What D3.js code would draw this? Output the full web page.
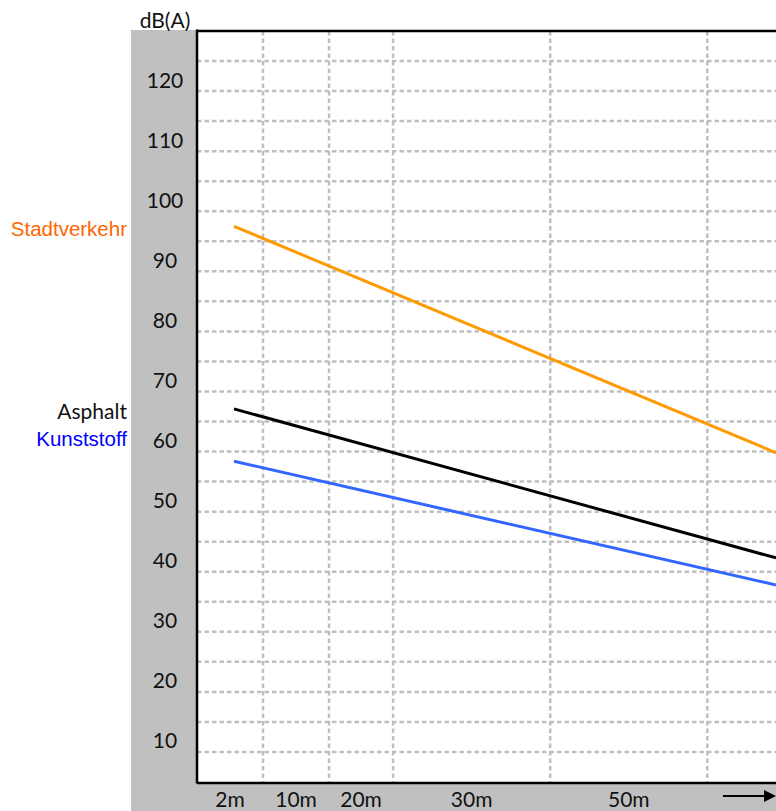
<!DOCTYPE html>
<html>
<head>
<meta charset="utf-8">
<script src="https://cdn.jsdelivr.net/npm/d3@7"></script>
<style>
  html, body { margin: 0; padding: 0; background: #fff; }
  svg { display: block; }
</style>
</head>
<body>
<svg id="chart" width="776" height="811"></svg>
<script>
// ---- data ----
const yTickLabels = [10, 20, 30, 40, 50, 60, 70, 80, 90, 100, 110, 120];
const yGridValues = [7.5, 12.5, 17.5, 22.5, 27.5, 32.5, 37.5, 42.5, 47.5, 52.5, 57.5, 62.5,
                     67.5, 72.5, 77.5, 82.5, 87.5, 92.5, 97.5, 102.5, 107.5, 112.5, 117.5, 122.5];
const xCategories = ["2m", "10m", "20m", "30m", "50m"];
const xBandEdges = [0, 1, 2, 2.97, 5.35, 7.73];   // abstract distance units
const xGridValues = [1, 2, 2.97, 5.35, 7.73];
const seriesNames = ["Stadtverkehr", "Asphalt", "Kunststoff"];
const seriesX = [0.56, 8.77];
const stadtverkehr = [95, 57.3];
const asphalt = [64.6, 39.8];
const kunststoff = [55.9, 35.3];
const lineColors = ["#FF9900", "#000000", "#3366FF"];
const labelColors = ["#FF6600", "#111111", "#0000FF"];
const labelFonts = ["'Liberation Sans', Arial, sans-serif", "Lato, sans-serif", "'Liberation Sans', Arial, sans-serif"];

// ---- layout ----
const W = 776, H = 811;
const plot = { left: 197, right: 776, top: 31, bottom: 782 };
const x = d3.scaleLinear().domain([0, 8.77]).range([plot.left, plot.right]);
const y = d3.scaleLinear().domain([2.5, 127.5]).range([plot.bottom, plot.top]);

const svg = d3.select("#chart");
const grey = "#C0C0C0";

// grey panel (left strip + bottom strip)
svg.append("rect").attr("x", 131).attr("y", 30).attr("width", plot.left - 131).attr("height", H - 30).attr("fill", grey);
svg.append("rect").attr("x", 131).attr("y", plot.bottom).attr("width", W - 131).attr("height", H - plot.bottom).attr("fill", grey);

// white plot
svg.append("rect").attr("x", plot.left).attr("y", plot.top).attr("width", plot.right - plot.left)
  .attr("height", plot.bottom - plot.top).attr("fill", "#fff");

// grid
const grid = svg.append("g").attr("stroke", "#BFBFBF").attr("stroke-width", 2.5).attr("stroke-dasharray", "4.5,3");
grid.selectAll("line.h").data(yGridValues).join("line").attr("class", "h")
  .attr("x1", plot.left).attr("x2", plot.right)
  .attr("y1", d => y(d)).attr("y2", d => y(d));
grid.selectAll("line.v").data(xGridValues).join("line").attr("class", "v")
  .attr("x1", d => x(d)).attr("x2", d => x(d))
  .attr("y1", plot.top).attr("y2", plot.bottom);

// series lines
const allSeries = [stadtverkehr, asphalt, kunststoff];
const lineGen = d3.line().x((d, i) => x(seriesX[i])).y(d => y(d));
svg.append("g").selectAll("path").data(allSeries).join("path")
  .attr("d", d => lineGen(d))
  .attr("fill", "none")
  .attr("stroke", (d, i) => lineColors[i])
  .attr("stroke-width", 3);

// axes frame
svg.append("line").attr("x1", plot.left).attr("x2", plot.left).attr("y1", plot.top - 1.5).attr("y2", plot.bottom + 1.5)
  .attr("stroke", "#000").attr("stroke-width", 2.5);
svg.append("line").attr("x1", plot.left).attr("x2", plot.right).attr("y1", plot.top).attr("y2", plot.top)
  .attr("stroke", "#000").attr("stroke-width", 2.5);
svg.append("line").attr("x1", plot.left).attr("x2", plot.right).attr("y1", plot.bottom + 1).attr("y2", plot.bottom + 1)
  .attr("stroke", "#000").attr("stroke-width", 2.5);

// y tick labels
const labelFont = "Lato, sans-serif";
const fs = 21;
svg.append("g").selectAll("text").data(yTickLabels).join("text")
  .attr("x", 165).attr("y", d => y(d) + 3)
  .attr("text-anchor", "middle").attr("dominant-baseline", "central")
  .attr("font-family", labelFont).attr("font-size", fs).attr("fill", "#111")
  .text(d => d);

svg.append("text").attr("x", 165).attr("y", 19)
  .attr("text-anchor", "middle").attr("dominant-baseline", "central")
  .attr("font-family", labelFont).attr("font-size", fs).attr("fill", "#111")
  .text("dB(A)");

// x category labels (centered in bands)
svg.append("g").selectAll("text").data(xCategories).join("text")
  .attr("x", (d, i) => x((xBandEdges[i] + xBandEdges[i + 1]) / 2))
  .attr("y", 798)
  .attr("text-anchor", "middle").attr("dominant-baseline", "central")
  .attr("font-family", labelFont).attr("font-size", fs).attr("fill", "#111")
  .text(d => d);

// arrow
const ay = 796;
svg.append("line").attr("x1", plot.right - 53).attr("x2", plot.right - 10).attr("y1", ay).attr("y2", ay)
  .attr("stroke", "#000").attr("stroke-width", 2);
svg.append("path")
  .attr("d", `M${plot.right - 12},${ay - 6} L${plot.right},${ay} L${plot.right - 12},${ay + 6} Z`)
  .attr("fill", "#000");

// series labels (left of panel); Kunststoff stacked under Asphalt
const labelY = [y(stadtverkehr[0]) + 2, y(asphalt[0]) + 2, y(asphalt[0]) + 30];
svg.append("g").selectAll("text").data(seriesNames).join("text")
  .attr("x", 127).attr("y", (d, i) => labelY[i])
  .attr("text-anchor", "end").attr("dominant-baseline", "central")
  .attr("font-family", (d, i) => labelFonts[i])
  .attr("font-size", (d, i) => i === 1 ? fs : 20.5)
  .attr("fill", (d, i) => labelColors[i])
  .text(d => d);
</script>
</body>
</html>
